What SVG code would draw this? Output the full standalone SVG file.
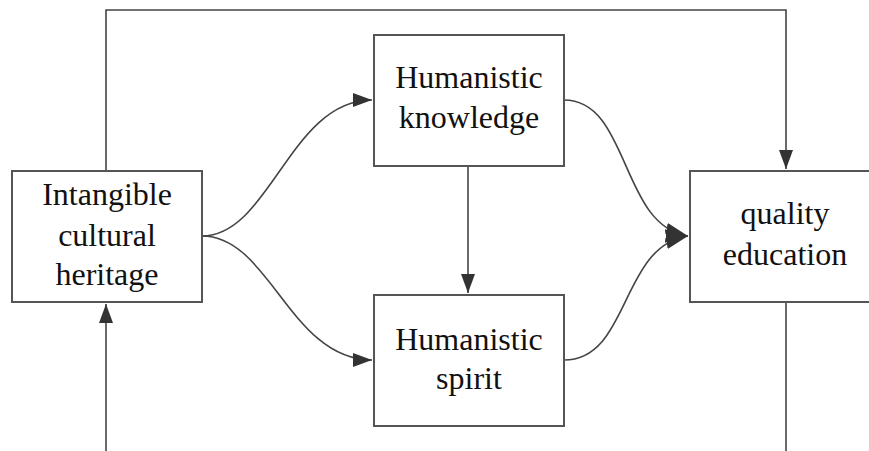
<svg xmlns="http://www.w3.org/2000/svg" width="869" height="451" viewBox="0 0 869 451">
<style>
.box{fill:#fff;stroke:#555;stroke-width:2}
.lbl{font-family:"Liberation Serif","Times New Roman",serif;font-size:32px;fill:#111;text-anchor:middle}
.edge{fill:none;stroke:#444;stroke-width:1.6}
</style>
<defs>
<marker id="ah" markerUnits="userSpaceOnUse" markerWidth="22" markerHeight="16" refX="19" refY="7" orient="auto">
<path d="M0,0 L19,7 L0,14 Z" fill="#333"/>
</marker>
<marker id="ahb" markerUnits="userSpaceOnUse" markerWidth="24" markerHeight="22" refX="22" refY="10" orient="auto">
<path d="M0,0 L22,10 L0,20 Z" fill="#333"/>
</marker>
</defs>
<rect width="869" height="451" fill="#fff"/>
<g id="connectors">
<path class="edge" d="M106,171 V10 H786 V169" marker-end="url(#ah)"/>
<path class="edge" d="M106,451 V304" marker-end="url(#ah)"/>
<path class="edge" d="M786,302 V451"/>
<path class="edge" d="M468,166 V293" marker-end="url(#ah)"/>
<path class="edge" d="M202,236 C270,236 290,100 372,100" marker-end="url(#ah)"/>
<path class="edge" d="M202,236 C270,236 290,360 372,360" marker-end="url(#ah)"/>
<path class="edge" d="M564,100 C630,100 620,226 688,236" marker-end="url(#ahb)"/>
<path class="edge" d="M564,360 C630,360 620,246 688,236" marker-end="url(#ahb)"/>
</g>
<g id="node-ich">
<rect class="box" x="12" y="171" width="190" height="131"/>
<text class="lbl" x="107" y="205">Intangible</text>
<text class="lbl" x="107" y="246">cultural</text>
<text class="lbl" x="107" y="285">heritage</text>
</g>
<g id="node-knowledge">
<rect class="box" x="374" y="35" width="190" height="131"/>
<text class="lbl" x="469" y="88">Humanistic</text>
<text class="lbl" x="469" y="128">knowledge</text>
</g>
<g id="node-spirit">
<rect class="box" x="374" y="295" width="190" height="131"/>
<text class="lbl" x="469" y="350">Humanistic</text>
<text class="lbl" x="469" y="389">spirit</text>
</g>
<g id="node-quality">
<rect class="box" x="690" y="171" width="190" height="131"/>
<text class="lbl" x="785" y="224">quality</text>
<text class="lbl" x="785" y="265">education</text>
</g>
</svg>
